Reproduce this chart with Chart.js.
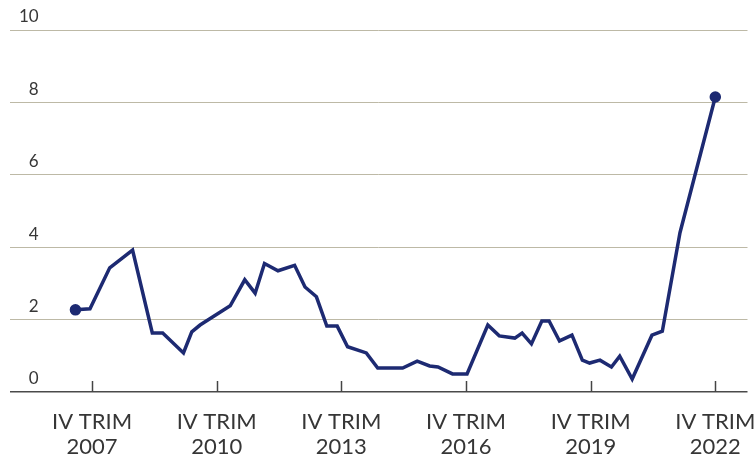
<!DOCTYPE html>
<html>
<head>
<meta charset="utf-8">
<script src="https://cdn.jsdelivr.net/npm/chart.js@4/dist/chart.umd.min.js"></script>
<style>
  body { margin: 0; background: #fff; }
  #wrap { width: 755px; height: 469px; position: relative; }
</style>
</head>
<body>
<div id="wrap"><canvas id="chart"></canvas></div>
<script>
// quarters counted from IV TRIM 2007 (= 0)
const quarters = [-1.6, -0.2, 1.7, 3.9, 5.8, 6.8, 8.8, 9.6, 10.4, 13.3, 14.7, 15.7, 16.6, 17.9, 19.5,
  20.5, 21.6, 22.6, 23.6, 24.6, 26.4, 27.5, 29.9, 31.3, 32.5, 33.3, 34.7, 36.1, 38.1, 39.2, 40.7,
  41.4, 42.3, 43.3, 44.0, 45.0, 46.2, 47.2, 47.9, 48.9, 50.0, 50.8, 52.0, 53.9, 54.9, 56.6, 60];
const values = [2.27, 2.3, 3.43, 3.92, 1.63, 1.63, 1.08, 1.66, 1.85, 2.38, 3.1, 2.73, 3.55, 3.35, 3.5,
  2.9, 2.63, 1.82, 1.82, 1.25, 1.08, 0.66, 0.66, 0.85, 0.72, 0.69, 0.5, 0.5, 1.85, 1.55, 1.49,
  1.63, 1.33, 1.96, 1.96, 1.41, 1.57, 0.88, 0.8, 0.88, 0.69, 0.99, 0.36, 1.57, 1.68, 4.4, 8.15];
const tickQuarters = [0, 12, 24, 36, 48, 60];
const tickYears = ['2007', '2010', '2013', '2016', '2019', '2022'];
const yTicks = [0, 2, 4, 6, 8, 10];

const points = quarters.map((q, i) => ({ x: q, y: values[i] }));

// small tick marks standing up from the base line
const innerTicks = {
  id: 'innerTicks',
  afterDatasetsDraw(chart) {
    const { ctx, scales: { x, y } } = chart;
    const base = y.getPixelForValue(0);
    ctx.save();
    ctx.strokeStyle = '#444';
    ctx.lineWidth = 1.5;
    tickQuarters.forEach(q => {
      const px = Math.round(x.getPixelForValue(q)) + 0.5;
      ctx.beginPath();
      ctx.moveTo(px, base);
      ctx.lineTo(px, base - 11);
      ctx.stroke();
    });
    ctx.restore();
  }
};

new Chart(document.getElementById('chart'), {
  type: 'line',
  data: {
    datasets: [{
      data: points,
      borderColor: '#1d2a72',
      backgroundColor: '#1d2a72',
      borderWidth: 3.5,
      tension: 0,
      pointRadius: ctx => (ctx.dataIndex === 0 || ctx.dataIndex === points.length - 1) ? 4 : 0,
      pointHoverRadius: 0
    }]
  },
  options: {
    responsive: true,
    maintainAspectRatio: false,
    animation: false,
    layout: { padding: { top: 30, left: 10, right: 0, bottom: 8 } },
    plugins: { legend: { display: false }, tooltip: { enabled: false } },
    scales: {
      x: {
        type: 'linear',
        min: -7.9,
        max: 63.1,
        afterBuildTicks: s => { s.ticks = tickQuarters.map(v => ({ value: v })); },
        afterFit: s => { s.paddingLeft = 0; s.paddingRight = 0; s.height = 69; },
        grid: { display: false, drawTicks: false },
        border: { display: false },
        ticks: {
          padding: 18,
          color: '#363636',
          font: { family: 'Lato', size: 22, lineHeight: 1.12 },
          maxRotation: 0,
          autoSkip: false,
          callback: v => ['IV TRIM', tickYears[tickQuarters.indexOf(v)]]
        }
      },
      y: {
        min: 0,
        max: 10,
        afterBuildTicks: s => { s.ticks = yTicks.map(v => ({ value: v })); },
        afterFit: s => { s.width = 0; },
        grid: {
          drawTicks: false,
          color: c => c.tick.value === 0 ? '#4a4a4a' : '#bdb9a6',
          lineWidth: c => c.tick.value === 0 ? 1.6 : 1
        },
        border: { display: false },
        ticks: {
          mirror: true,
          crossAlign: 'far',
          padding: 9,
          labelOffset: -13,
          color: '#363636',
          font: { family: 'Lato', size: 17 }
        }
      }
    }
  },
  plugins: [innerTicks]
});
</script>
</body>
</html>
